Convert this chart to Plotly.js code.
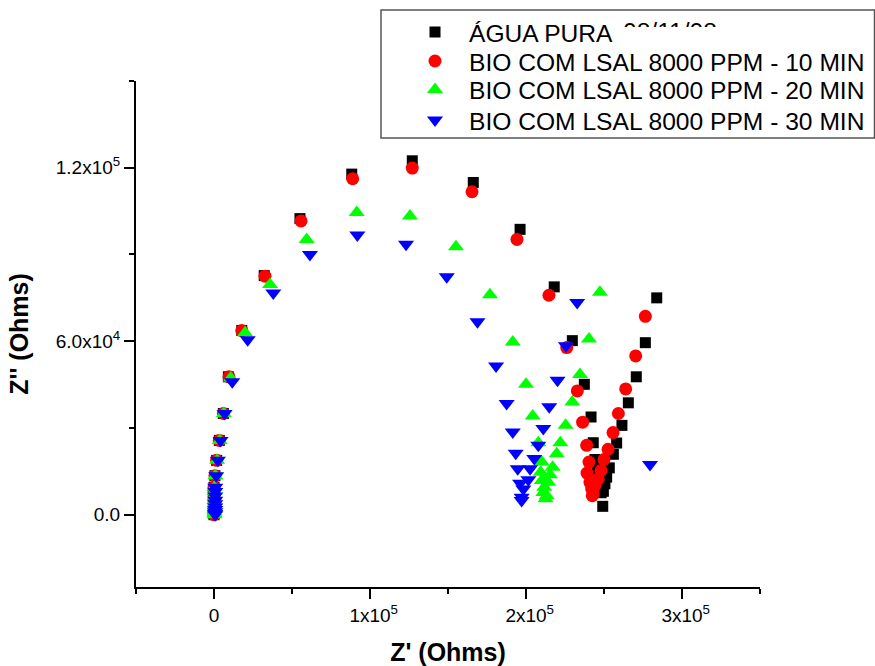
<!DOCTYPE html>
<html><head><meta charset="utf-8">
<script src="https://cdn.plot.ly/plotly-3.0.1.min.js"></script>
<style>html,body{margin:0;padding:0;background:#fff}</style>
</head><body><div id="chart" style="width:875px;height:666px"></div>
<script>
const seriesNames = ['ÁGUA PURA', 'BIO COM LSAL 8000 PPM - 10 MIN', 'BIO COM LSAL 8000 PPM - 20 MIN', 'BIO COM LSAL 8000 PPM - 30 MIN'];
const hiddenDate = '08/11/08';

const aguaX = [0,0,0,0,0,0,0,0,0,0,600,1700,3400,6000,
  9200,17800,32200,55100,88300,127100,166200,196200,218100,229700,237400,241700,243100,244200,245500,246800,248100,249200,
  249600,250600,251700,253400,256000,258100,261500,265600,270700,276500,283800];
const aguaY = [0,400,1000,1800,2700,3800,5000,6500,8000,9500,13500,18800,25700,35000,
  47700,63700,82700,102400,117800,122400,114900,98700,78800,60200,45100,33800,24900,19100,15300,11500,7600,2900,
  8100,10700,13000,16200,20900,24800,30900,38700,47700,59500,75000];

const bio10X = [0,0,0,0,0,0,0,0,0,0,600,1700,3400,6000,
  9600,17800,32700,55800,88900,127100,165400,194200,214700,226100,232900,236300,238900,240400,239100,241000,242100,243100,242500,
  244200,246300,248100,250000,252600,255800,259200,263900,270300,276500];
const bio10Y = [0,400,1000,1800,2700,3800,5000,6500,8000,9500,13500,18800,25700,35000,
  47700,63700,82500,101600,116200,119900,111700,95200,75900,57800,42800,32000,24000,18200,14400,11200,8900,7200,6600,
  10100,12400,15300,19100,22600,28400,35000,43500,54900,68600];

const bio20X = [300,300,300,300,300,300,300,300,300,300,900,2000,3700,6300,
  10700,19900,35900,59400,91500,125600,155100,176900,191500,200000,204300,207900,210100,209400,210100,211700,211100,213300,212500,
  214300,215400,217100,219700,222000,225400,229700,234600,240400,247400];
const bio20Y = [0,400,1000,1800,2700,3800,5000,6500,8000,9500,13500,18800,25700,35000,
  47300,62900,79600,95200,104500,103300,92700,76100,59700,45100,34100,24900,18200,14700,11800,9500,7700,6600,5500,
  11200,13800,16400,21100,24900,30900,39000,48500,60800,76900];

const bio30X = [800,800,800,800,800,800,800,800,800,800,1400,2500,4200,6800,
  11700,21600,38000,61500,91900,123100,149200,168900,180800,187600,191500,193400,194700,196200,198300,197200,197200,
  201500,202600,205300,207900,211100,214900,220200,225600,232800,279500];
const bio30Y = [0,400,1000,1800,2700,3800,5000,6500,8000,9500,13500,18800,25700,35000,
  46000,60500,76700,90000,96700,93500,82300,66700,51400,38500,28600,21300,15900,10900,8900,6000,4900,
  12100,15900,19400,24000,29800,37300,46500,58400,73400,17400];

const xTickVals = [0, 100000, 200000, 300000];
const xTickText = ['0', '<sup>\u2007</sup>1x10<sup>5</sup>', '<sup>\u2007</sup>2x10<sup>5</sup>', '<sup>\u2007</sup>3x10<sup>5</sup>'];
const xMinorVals = [-50000, 50000, 150000, 250000, 350000];
const yTickVals = [0, 60000, 120000];
const yTickText = ['0.0', '6.0x10<sup>4</sup>', '1.2x10<sup>5</sup>'];
const yMinorVals = [30000, 90000, 150000];

const FONT = 'Liberation Sans, Arial, sans-serif';
const colors = ['#000000', '#ff0000', '#00ff00', '#0000ff'];
const symbols = ['square', 'circle', 'triangle-up', 'triangle-down'];
const sizes = [11, 13, 14, 14];
const xs = [aguaX, bio10X, bio20X, bio30X];
const ys = [aguaY, bio10Y, bio20Y, bio30Y];
const legendIds = ['legend', 'legend2', 'legend3', 'legend4'];

const W = 875, H = 666, L = 136, R = 115, T = 81, B = 79;
const pw = W - L - R, ph = H - T - B;
const px = v => (v - L) / pw;
const py = v => (H - B - v) / ph;

const traces = seriesNames.map((n, i) => ({
  type: 'scatter', mode: 'markers', name: n,
  x: xs[i], y: ys[i],
  legend: legendIds[i],
  marker: {symbol: symbols[i], color: colors[i], size: sizes[i], line: {width: 0}},
  cliponaxis: false
}));

const rowY = [32, 61, 89.5, 120];
const legendX = 401;
const layout = {
  width: W, height: H,
  margin: {l: L, r: R, t: T, b: B, autoexpand: false},
  paper_bgcolor: '#fff', plot_bgcolor: '#fff',
  font: {family: FONT, color: '#000'},
  showlegend: true,
  xaxis: {
    range: [-50000, 350000], tickmode: 'array', tickvals: xTickVals, ticktext: xTickText,
    ticks: 'outside', ticklen: 10, tickwidth: 2, tickcolor: '#000',
    showline: true, linewidth: 2, linecolor: '#000', zeroline: false, showgrid: false,
    minor: {tickmode: 'array', tickvals: xMinorVals, ticks: 'outside', ticklen: 5, tickwidth: 2, tickcolor: '#000', showgrid: false},
    tickfont: {family: FONT, size: 19, color: '#000'},
    title: {text: "<b>Z' (Ohms)</b>", font: {family: FONT, size: 25, color: '#000'}, standoff: 20}
  },
  yaxis: {
    range: [-25000, 150000], tickmode: 'array', tickvals: yTickVals, ticktext: yTickText,
    ticks: 'outside', ticklen: 10, tickwidth: 2, tickcolor: '#000',
    showline: true, linewidth: 2, linecolor: '#000', zeroline: false, showgrid: false,
    minor: {tickmode: 'array', tickvals: yMinorVals, ticks: 'outside', ticklen: 5, tickwidth: 2, tickcolor: '#000', showgrid: false},
    tickfont: {family: FONT, size: 19, color: '#000'},
    title: {text: "<b>Z'' (Ohms)</b>", font: {family: FONT, size: 25, color: '#000'}, standoff: 20}
  },
  shapes: [{
    type: 'rect', xref: 'paper', yref: 'paper',
    x0: px(381), x1: px(874.5), y0: py(138), y1: py(10),
    line: {color: '#555', width: 1.5}, fillcolor: '#fff', layer: 'above'
  }],
  annotations: [
    {xref: 'paper', yref: 'paper', x: px(621), y: py(32), xanchor: 'left', yanchor: 'middle',
     text: hiddenDate, showarrow: false, font: {family: FONT, size: 24.6, color: '#000'}},
    {xref: 'paper', yref: 'paper', x: px(669), y: py(39.75), xanchor: 'center', yanchor: 'middle',
     text: '\u00a0', showarrow: false, width: 98, height: 25, bgcolor: '#fff', borderpad: 0, borderwidth: 0}
  ]
};
legendIds.forEach((id, i) => {
  layout[id] = {
    x: px(legendX), y: py(rowY[i]), xanchor: 'left', yanchor: 'middle',
    bgcolor: 'rgba(0,0,0,0)', borderwidth: 0, itemwidth: 58,
    font: {family: FONT, size: 24.6, color: '#000'}
  };
});

Plotly.newPlot('chart', traces, layout, {displayModeBar: false, staticPlot: true});
</script>
</body></html>
